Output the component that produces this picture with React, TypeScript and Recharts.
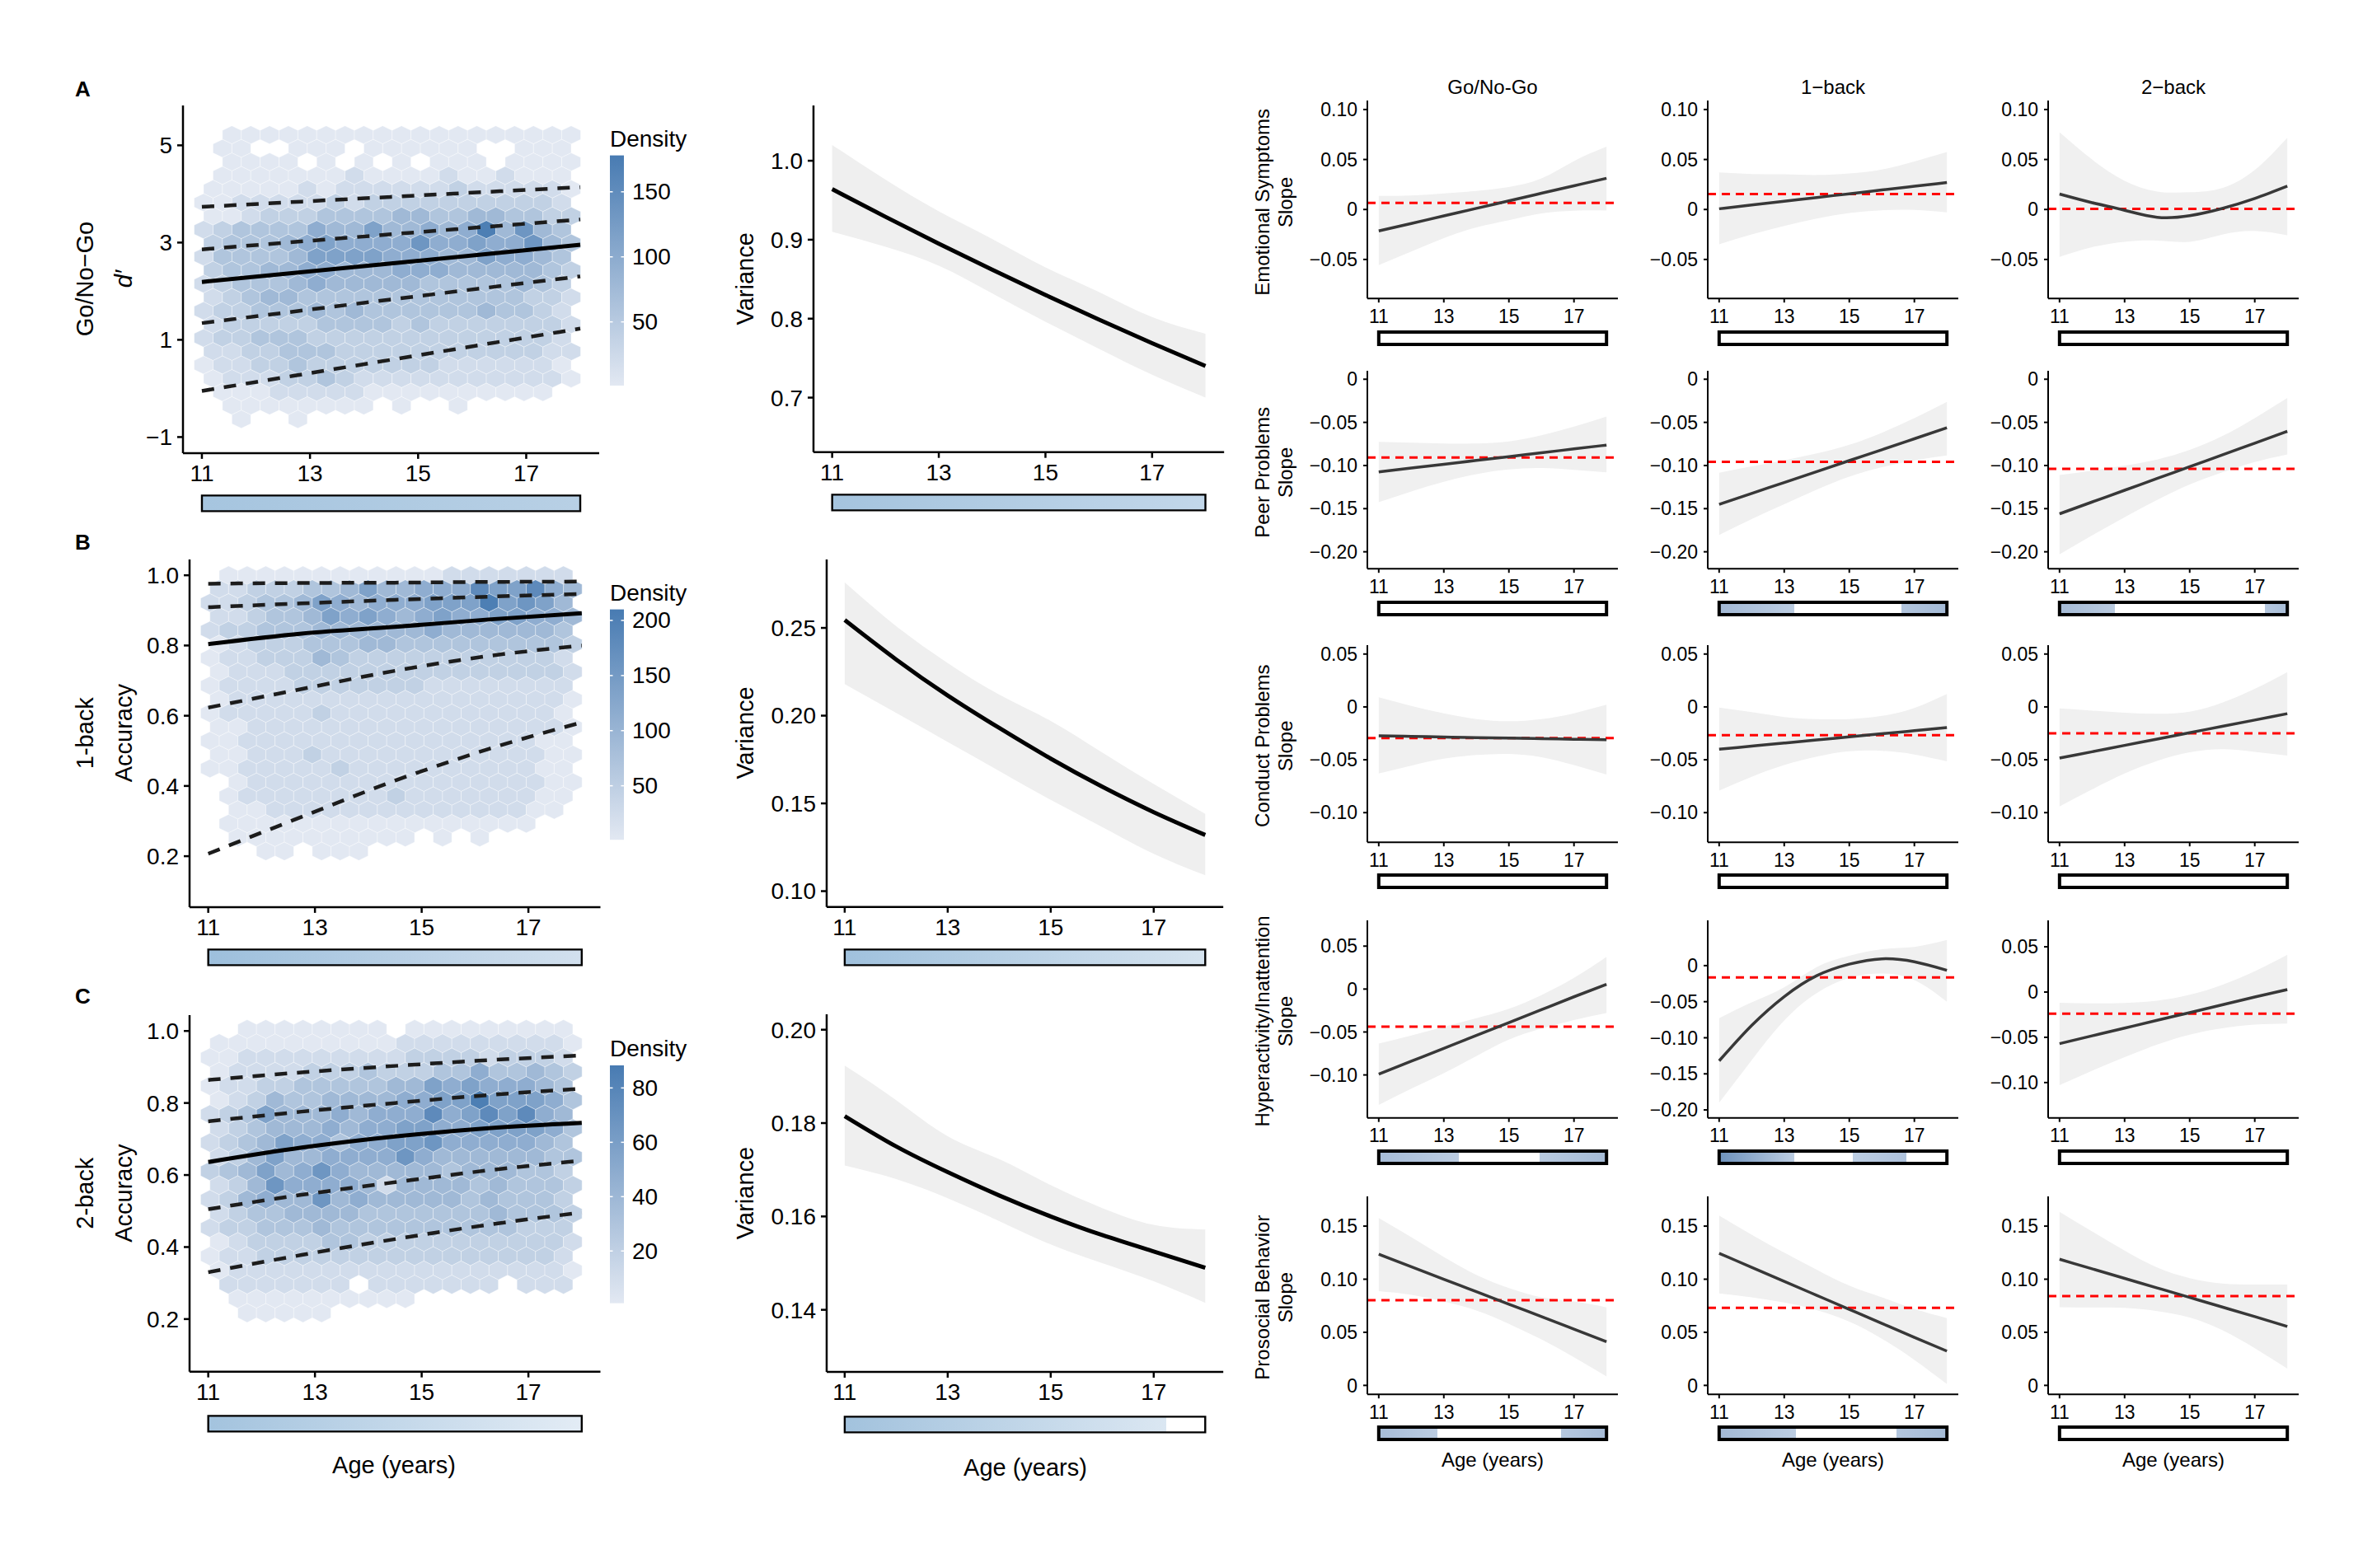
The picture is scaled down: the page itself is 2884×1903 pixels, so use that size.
import React from 'react';
import {
  Area,
  ComposedChart,
  Line,
  ReferenceArea,
  ReferenceLine,
  Scatter,
  XAxis,
  YAxis,
} from 'recharts';

const FONT = '"Liberation Sans", Arial, Helvetica, sans-serif';

// shared age axis
const AGE_DOMAIN: [number, number] = [10.65, 18.35];
const AGE_TICKS = [11, 13, 15, 17];
const AGES = [11, 12, 13, 14, 15, 16, 17, 18];
const Q_AGES_GONOGO = [11, 14.5, 18];
const Q_AGES_NBACK = [11, 12.75, 14.5, 16.25, 18];

// hexbin shade per bin (rows top -> bottom, '.' = empty bin, 0..9 = shade level)
const HEX_GONOGO = [
  '.0000000000000000000',
  '.00..000.000000..000',
  '.0000.0.0.0.000.0000',
  '.0000000100001001000',
  '00000101111112111110',
  '00111112122222222221',
  '00122233334433443322',
  '12333354464454594743',
  '23334565555755655743',
  '13333466665554465543',
  '23344554445554444432',
  '12333454444433333432',
  '12344333333333333221',
  '12233343433333343321',
  '12222233332322222221',
  '12233322222222222221',
  '11223332222222222211',
  '01122322222221111110',
  '01112232111111111110',
  '.000111110000000000.',
  '.00000000.0..0......',
  '..0..0..............',
];
const HEX_ONEBACK = [
  '.0000000000001111111',
  '11222334644555866854',
  '11233465455566696764',
  '11233465654565566554',
  '12233344444454444443',
  '01222333443333333332',
  '01122243222222222221',
  '01112222222222222221',
  '01111222222211111111',
  '01111111111111111110',
  '01111121111111111110',
  '00111111111111111110',
  '00111111111111111100',
  '00111211111111111100',
  '00111112111111111100',
  '.0111111111111111100',
  '.0111111112111111100',
  '.001111111111111100.',
  '.00000000000000000..',
  '.0000000000.0.0.....',
  '...00.000...........',
];
const HEX_TWOBACK = [
  '..00000000.000000000',
  '00000000001111111110',
  '00111111111222212221',
  '01111222322233533432',
  '01122333334465655543',
  '01243344445566966653',
  '12364445455585686854',
  '12344454556655666653',
  '12346553556675555543',
  '12464455557544444433',
  '23464575444443444332',
  '12475555414444343332',
  '12454474544444343332',
  '12334444333333343332',
  '12233343333333333222',
  '01222233222222222221',
  '01122222222222222221',
  '01111111111111111110',
  '.1111111.1111111.111',
  '.0000000000.........',
  '..00000.............',
];

// bin layout: first row centre, row step, column step, centre of first bin in each row parity
const HEX_GRID_GONOGO = { y0: 5.215, dy: 0.2785, dx: 0.3487, firstBase: 11.206, otherBase: 11.032 };
const HEX_GRID_ONEBACK = { y0: 1.0, dy: 0.0393, dx: 0.3487, firstBase: 11.032, otherBase: 11.206 };
const HEX_GRID_TWOBACK = { y0: 1.005, dy: 0.0394, dx: 0.3487, firstBase: 11.032, otherBase: 11.206 };

const DENSITY_RANGE_GONOGO: [number, number] = [1, 178];
const DENSITY_RANGE_ONEBACK: [number, number] = [1, 210];
const DENSITY_RANGE_TWOBACK: [number, number] = [0.8, 88.3];
const DENSITY_TICKS_GONOGO = [50, 100, 150];
const DENSITY_TICKS_ONEBACK = [50, 100, 150, 200];
const DENSITY_TICKS_TWOBACK = [20, 40, 60, 80];

// quantile curves, top to bottom (index 2 = median, solid)
const Q_GONOGO = [
  [3.734, 3.94, 4.14],
  [2.86, 3.17, 3.475],
  [2.19, 2.57, 2.955],
  [1.344, 1.83, 2.305],
  [-0.051, 0.59, 1.232],
];
const Q_ONEBACK = [
  [0.976, 0.978, 0.979, 0.981, 0.982],
  [0.909, 0.92, 0.93, 0.939, 0.947],
  [0.804, 0.834, 0.853, 0.874, 0.892],
  [0.623, 0.676, 0.728, 0.77, 0.8],
  [0.207, 0.312, 0.415, 0.505, 0.581],
];
const Q_TWOBACK = [
  [0.864, 0.885, 0.903, 0.919, 0.932],
  [0.749, 0.776, 0.8, 0.822, 0.84],
  [0.636, 0.676, 0.707, 0.73, 0.745],
  [0.505, 0.545, 0.58, 0.613, 0.64],
  [0.33, 0.378, 0.422, 0.462, 0.496],
];

// variance by age
const VAR_GONOGO_FIT = [0.964, 0.929, 0.895, 0.862, 0.83, 0.799, 0.769, 0.74];
const VAR_GONOGO_HI = [1.02, 0.976, 0.936, 0.901, 0.865, 0.834, 0.802, 0.781];
const VAR_GONOGO_LO = [0.91, 0.891, 0.867, 0.832, 0.796, 0.762, 0.729, 0.7];
const VAR_ONEBACK_FIT = [0.2545, 0.232, 0.2115, 0.193, 0.1755, 0.1595, 0.145, 0.132];
const VAR_ONEBACK_HI = [0.276, 0.251, 0.23, 0.212, 0.197, 0.179, 0.161, 0.144];
const VAR_ONEBACK_LO = [0.218, 0.2015, 0.185, 0.1685, 0.152, 0.1365, 0.1212, 0.109];
const VAR_TWOBACK_FIT = [0.1815, 0.175, 0.1695, 0.1645, 0.16, 0.156, 0.1525, 0.149];
const VAR_TWOBACK_HI = [0.1923, 0.1849, 0.1772, 0.1723, 0.1667, 0.1618, 0.1582, 0.1572];
const VAR_TWOBACK_LO = [0.1709, 0.168, 0.1639, 0.159, 0.154, 0.15, 0.1461, 0.1415];

// SDQ slopes by age: fit, lower, upper, average slope
const EMO_GNG_FIT = [-0.0215, -0.014, -0.0064, 0.0011, 0.0087, 0.0162, 0.0237, 0.0312];
const EMO_GNG_LO = [-0.0556, -0.042, -0.0287, -0.018, -0.0108, -0.004, -0.0012, -0.001];
const EMO_GNG_HI = [0.0136, 0.014, 0.016, 0.0185, 0.0225, 0.031, 0.0485, 0.0628];
const EMO_GNG_REF = 0.0065;
const EMO_1B_FIT = [0.0007, 0.0045, 0.0082, 0.012, 0.0157, 0.0195, 0.0232, 0.0269];
const EMO_1B_LO = [-0.0348, -0.025, -0.0165, -0.009, -0.0036, -0.0008, -0.0005, -0.0029];
const EMO_1B_HI = [0.037, 0.0355, 0.0352, 0.0345, 0.036, 0.04, 0.048, 0.0574];
const EMO_1B_REF = 0.0154;
const EMO_2B_FIT = [0.0154, 0.0068, -0.0008, -0.0078, -0.0062, 0.001, 0.011, 0.0233];
const EMO_2B_LO = [-0.0474, -0.0377, -0.0323, -0.0312, -0.0323, -0.0251, -0.0215, -0.0258];
const EMO_2B_HI = [0.0772, 0.05, 0.0287, 0.018, 0.0172, 0.0215, 0.0395, 0.0718];
const EMO_2B_REF = 0.0007;

const PEER_GNG_FIT = [-0.1075, -0.103, -0.0986, -0.0941, -0.0897, -0.0852, -0.0808, -0.0763];
const PEER_GNG_LO = [-0.1425, -0.13, -0.119, -0.11, -0.1045, -0.103, -0.105, -0.1079];
const PEER_GNG_HI = [-0.0725, -0.0735, -0.0745, -0.0745, -0.072, -0.065, -0.055, -0.0433];
const PEER_GNG_REF = -0.0908;
const PEER_1B_FIT = [-0.145, -0.1323, -0.1197, -0.107, -0.0943, -0.0817, -0.069, -0.0563];
const PEER_1B_LO = [-0.1804, -0.162, -0.145, -0.128, -0.113, -0.102, -0.094, -0.0883];
const PEER_1B_HI = [-0.1083, -0.101, -0.094, -0.086, -0.076, -0.062, -0.045, -0.0263];
const PEER_1B_REF = -0.0958;
const PEER_2B_FIT = [-0.156, -0.1423, -0.1287, -0.115, -0.1014, -0.0877, -0.0741, -0.0604];
const PEER_2B_LO = [-0.203, -0.181, -0.16, -0.14, -0.122, -0.108, -0.096, -0.0871];
const PEER_2B_HI = [-0.111, -0.106, -0.1, -0.093, -0.082, -0.066, -0.045, -0.0217];
const PEER_2B_REF = -0.1038;

const COND_GNG_FIT = [-0.0274, -0.0279, -0.0285, -0.029, -0.0295, -0.03, -0.0306, -0.0311];
const COND_GNG_LO = [-0.063, -0.0555, -0.049, -0.0455, -0.0445, -0.0475, -0.055, -0.064];
const COND_GNG_HI = [0.0091, 0.001, -0.006, -0.0115, -0.0135, -0.0115, -0.006, 0.002];
const COND_GNG_REF = -0.0295;
const COND_1B_FIT = [-0.04, -0.0371, -0.0342, -0.0313, -0.0283, -0.0254, -0.0225, -0.0196];
const COND_1B_LO = [-0.0792, -0.066, -0.055, -0.047, -0.042, -0.0415, -0.045, -0.0515];
const COND_1B_HI = [-0.0007, -0.005, -0.0095, -0.0115, -0.0115, -0.0085, -0.001, 0.0122];
const COND_1B_REF = -0.0267;
const COND_2B_FIT = [-0.0484, -0.0424, -0.0364, -0.0304, -0.0244, -0.0184, -0.0124, -0.0064];
const COND_2B_LO = [-0.0941, -0.078, -0.063, -0.051, -0.043, -0.04, -0.0425, -0.046];
const COND_2B_HI = [-0.0014, -0.0035, -0.0055, -0.0065, -0.0045, 0.004, 0.017, 0.0328];
const COND_2B_REF = -0.025;

const HYP_GNG_FIT = [-0.099, -0.084, -0.069, -0.054, -0.039, -0.024, -0.009, 0.0055];
const HYP_GNG_LO = [-0.135, -0.116, -0.098, -0.078, -0.059, -0.046, -0.036, -0.028];
const HYP_GNG_HI = [-0.0634, -0.054, -0.044, -0.034, -0.023, -0.007, 0.013, 0.0376];
const HYP_GNG_REF = -0.0439;
const HYP_1B_FIT = [-0.132, -0.083, -0.043, -0.014, 0.002, 0.0094, 0.0053, -0.0065];
const HYP_1B_LO = [-0.19, -0.131, -0.076, -0.038, -0.017, -0.011, -0.02, -0.05];
const HYP_1B_HI = [-0.073, -0.051, -0.03, -0.002, 0.0136, 0.0228, 0.026, 0.0355];
const HYP_1B_REF = -0.0164;
const HYP_2B_FIT = [-0.057, -0.0484, -0.0398, -0.0312, -0.0227, -0.0141, -0.0055, 0.0028];
const HYP_2B_LO = [-0.1029, -0.087, -0.072, -0.058, -0.047, -0.04, -0.036, -0.0348];
const HYP_2B_HI = [-0.0119, -0.0125, -0.012, -0.0095, -0.003, 0.008, 0.023, 0.0412];
const HYP_2B_REF = -0.0238;

const PRO_GNG_FIT = [0.1235, 0.1118, 0.1, 0.0883, 0.0765, 0.0648, 0.053, 0.0412];
const PRO_GNG_LO = [0.0887, 0.0853, 0.079, 0.0706, 0.058, 0.0433, 0.0265, 0.0084];
const PRO_GNG_HI = [0.1576, 0.1395, 0.121, 0.104, 0.0916, 0.083, 0.079, 0.0735];
const PRO_GNG_REF = 0.0803;
const PRO_1B_FIT = [0.1244, 0.1112, 0.098, 0.0848, 0.0716, 0.0584, 0.0452, 0.0323];
const PRO_1B_LO = [0.0866, 0.083, 0.078, 0.071, 0.06, 0.044, 0.024, 0.0013];
const PRO_1B_HI = [0.16, 0.142, 0.125, 0.109, 0.094, 0.083, 0.072, 0.0633];
const PRO_1B_REF = 0.0731;
const PRO_2B_FIT = [0.1188, 0.1098, 0.1008, 0.0918, 0.0828, 0.0738, 0.0648, 0.0555];
const PRO_2B_LO = [0.0737, 0.0735, 0.073, 0.07, 0.064, 0.052, 0.035, 0.0159];
const PRO_2B_HI = [0.1635, 0.145, 0.127, 0.111, 0.101, 0.096, 0.095, 0.095];
const PRO_2B_REF = 0.0841;

// derivative strips under each panel: [age, colour] stops
type Stop = [number, string];
const STRIP_WHITE: Stop[] = [[11, '#ffffff'], [18, '#ffffff']];
const STRIP_HEX_GONOGO: Stop[] = [[11, '#a6c5df'], [18, '#b8d0e5']];
const STRIP_HEX_ONEBACK: Stop[] = [[11, '#9dbfdc'], [18, '#d2e0ee']];
const STRIP_HEX_TWOBACK: Stop[] = [[11, '#a3c3de'], [18, '#e3ecf5']];
const STRIP_VAR_GONOGO: Stop[] = [[11, '#a5c4de'], [18, '#c2d7ea']];
const STRIP_VAR_ONEBACK: Stop[] = [[11, '#a0c1dd'], [18, '#d5e3ef']];
const STRIP_VAR_TWOBACK: Stop[] = [[11, '#a2c2dd'], [17.25, '#dbe7f2'], [17.25, '#ffffff'], [18, '#ffffff']];
const STRIP_PEER_1B: Stop[] = [[11, '#a3b9d5'], [13.3, '#bccde2'], [13.3, '#ffffff'], [16.6, '#ffffff'], [16.6, '#b3c6de'], [18, '#a4bad6']];
const STRIP_PEER_2B: Stop[] = [[11, '#a5bbd6'], [12.7, '#bacbe0'], [12.7, '#ffffff'], [17.3, '#ffffff'], [17.3, '#b6c8df'], [18, '#a8bdd7']];
const STRIP_HYP_GNG: Stop[] = [[11, '#a7bcd7'], [13.45, '#bccde2'], [13.45, '#ffffff'], [15.95, '#ffffff'], [15.95, '#b8cae0'], [18, '#a5bbd6']];
const STRIP_HYP_1B: Stop[] = [[11, '#6e92bc'], [13.3, '#bccde2'], [13.3, '#ffffff'], [15.1, '#ffffff'], [15.1, '#bdcee3'], [16.75, '#aec2dc'], [16.75, '#ffffff'], [18, '#ffffff']];
const STRIP_PRO_GNG: Stop[] = [[11, '#a7bcd7'], [12.8, '#bccde2'], [12.8, '#ffffff'], [16.6, '#ffffff'], [16.6, '#b6c8df'], [18, '#a7bcd7']];
const STRIP_PRO_1B: Stop[] = [[11, '#a3b9d5'], [13.35, '#bccde2'], [13.35, '#ffffff'], [16.45, '#ffffff'], [16.45, '#b3c6de'], [18, '#a5bbd6']];

const ROW_NAMES = ['Emotional Symptoms', 'Peer Problems', 'Conduct Problems', 'Hyperactivity/Inattention', 'Prosocial Behavior'];
const TASK_NAMES = ['Go/No-Go', '1\u2212back', '2\u2212back'];

// ---------------------------------------------------------------------------
type Frame = { x0: number; y0: number; x1: number; y1: number };
type AxisStyle = { font: number; tick: number; xGap: number; yGap: number; stroke: number };

const YW = 120;
const MT = 12;
const MR = 12;
const XH = 60;

const BIG: AxisStyle = { font: 28, tick: 7, xGap: 7, yGap: 6, stroke: 2.5 };
const SMALL: AxisStyle = { font: 23, tick: 5, xGap: 8, yGap: 7, stroke: 2 };

const LOW = [226, 232, 242];
const HIGH = [72, 123, 178];
const rgb = (c: number[]) => `rgb(${c.map((v) => Math.round(v)).join(',')})`;

function densityColor(count: number, range: [number, number]) {
  const t = Math.max(0, Math.min(1, (count - range[0]) / (range[1] - range[0])));
  return rgb(LOW.map((l, i) => l + (HIGH[i] - l) * t));
}

const minus = (s: string) => s.replace('-', '\u2212');
const fmtInt = (v: number) => minus(String(v));
const fmt1 = (v: number) => v.toFixed(1);
const fmt2 = (v: number) => v.toFixed(2);
const fmtSlope = (v: number) => (Math.abs(v) < 1e-9 ? '0' : minus(v.toFixed(2)));

function axes(st: AxisStyle, yDomain: [number, number], yTicks: number[], yFmt: (v: number) => string, yKey?: string) {
  const common = {
    axisLine: { stroke: '#000', strokeWidth: st.stroke },
    tickLine: { stroke: '#000', strokeWidth: st.stroke },
    tick: { fill: '#000', fontSize: st.font, fontFamily: FONT },
    tickSize: st.tick,
    allowDataOverflow: true,
    interval: 0 as const,
  };
  return [
    <XAxis key="x" type="number" dataKey="x" domain={AGE_DOMAIN} ticks={AGE_TICKS} height={XH} tickMargin={st.xGap} {...common} />,
    <YAxis key="y" type="number" dataKey={yKey} domain={yDomain} ticks={yTicks} tickFormatter={yFmt} width={YW} tickMargin={st.yGap} {...common} />,
  ];
}

function boxStyle(f: Frame): React.CSSProperties {
  return { position: 'absolute', left: f.x0 - YW, top: f.y0 - MT };
}
const chartW = (f: Frame) => f.x1 - f.x0 + YW + MR;
const chartH = (f: Frame) => f.y1 - f.y0 + MT + XH;

type HexGrid = { y0: number; dy: number; dx: number; firstBase: number; otherBase: number };

function hexCells(rows: string[], g: HexGrid, range: [number, number]) {
  const out: { x: number; y: number; count: number }[] = [];
  rows.forEach((row, r) => {
    const base = r % 2 === 0 ? g.firstBase : g.otherBase;
    for (let k = 0; k < row.length; k++) {
      const ch = row[k];
      if (ch === '.') continue;
      const level = Number(ch);
      out.push({ x: base + k * g.dx, y: g.y0 - r * g.dy, count: range[0] + ((range[1] - range[0]) * level) / 9.3 });
    }
  });
  return out;
}

function HexPanel(props: {
  frame: Frame; yDomain: [number, number]; yTicks: number[]; yFmt: (v: number) => string;
  rows: string[]; grid: HexGrid; range: [number, number]; quants: number[][]; qAges: number[];
}) {
  const { frame, yDomain, yTicks, yFmt, rows, grid, range, quants, qAges } = props;
  const pxX = (frame.x1 - frame.x0) / (AGE_DOMAIN[1] - AGE_DOMAIN[0]);
  const pxY = (frame.y1 - frame.y0) / (yDomain[1] - yDomain[0]);
  const hw = (grid.dx * pxX) / 2;
  const hy = grid.dy * pxY;
  const cells = hexCells(rows, grid, range);
  const shape = (p: any) => {
    if (!Number.isFinite(p.cx) || !Number.isFinite(p.cy)) return <g />;
    const count = p.payload?.count ?? p.count;
    const pts = [
      [0, (-2 * hy) / 3], [hw, -hy / 3], [hw, hy / 3], [0, (2 * hy) / 3], [-hw, hy / 3], [-hw, -hy / 3],
    ].map(([a, b]) => `${p.cx + a},${p.cy + b}`).join(' ');
    return <polygon points={pts} fill={densityColor(count, range)} stroke="#ffffff" strokeOpacity={0.45} strokeWidth={0.8} />;
  };
  return (
    <>
      <div style={boxStyle(frame)}>
        <ComposedChart width={chartW(frame)} height={chartH(frame)} margin={{ top: MT, right: MR, left: 0, bottom: 0 }}>
          {axes(BIG, yDomain, yTicks, yFmt, 'y')}
          <Scatter data={cells} dataKey="y" shape={shape} isAnimationActive={false} />
        </ComposedChart>
      </div>
      {/* quantile curves drawn in a second layer so they sit above the bins */}
      <div style={boxStyle(frame)}>
        <ComposedChart width={chartW(frame)} height={chartH(frame)} margin={{ top: MT, right: MR, left: YW, bottom: XH }}>
          <XAxis type="number" dataKey="x" domain={AGE_DOMAIN} hide allowDataOverflow />
          <YAxis type="number" dataKey="y" domain={yDomain} hide allowDataOverflow />
          {quants.map((q, i) => (
            <Line
              key={i}
              data={qAges.map((x, j) => ({ x, y: q[j] }))}
              dataKey="y"
              type="monotone"
              stroke={i === 2 ? '#000' : '#1c1c1c'}
              strokeWidth={i === 2 ? 5 : 4.5}
              strokeDasharray={i === 2 ? undefined : '15 12'}
              dot={false}
              activeDot={false}
              isAnimationActive={false}
            />
          ))}
        </ComposedChart>
      </div>
    </>
  );
}

function bandRows(fit: number[], lo: number[], hi: number[]) {
  return AGES.map((x, i) => ({ x, fit: fit[i], band: [lo[i], hi[i]] }));
}

function VariancePanel(props: {
  frame: Frame; yDomain: [number, number]; yTicks: number[]; yFmt: (v: number) => string;
  fit: number[]; lo: number[]; hi: number[];
}) {
  const { frame, yDomain, yTicks, yFmt, fit, lo, hi } = props;
  return (
    <div style={boxStyle(frame)}>
      <ComposedChart width={chartW(frame)} height={chartH(frame)} data={bandRows(fit, lo, hi)} margin={{ top: MT, right: MR, left: 0, bottom: 0 }}>
        {axes(BIG, yDomain, yTicks, yFmt)}
        <Area dataKey="band" type="natural" stroke="none" fill="#efefef" fillOpacity={1} isAnimationActive={false} activeDot={false} />
        <Line dataKey="fit" type="natural" stroke="#000" strokeWidth={5} dot={false} activeDot={false} isAnimationActive={false} />
      </ComposedChart>
    </div>
  );
}

function SlopePanel(props: {
  frame: Frame; yDomain: [number, number]; yTicks: number[];
  fit: number[]; lo: number[]; hi: number[]; avg: number;
}) {
  const { frame, yDomain, yTicks, fit, lo, hi, avg } = props;
  return (
    <div style={boxStyle(frame)}>
      <ComposedChart width={chartW(frame)} height={chartH(frame)} data={bandRows(fit, lo, hi)} margin={{ top: MT, right: MR, left: 0, bottom: 0 }}>
        {axes(SMALL, yDomain, yTicks, fmtSlope)}
        <Area dataKey="band" type="natural" stroke="none" fill="#f0f0f0" fillOpacity={1} isAnimationActive={false} activeDot={false} />
        <ReferenceLine y={avg} stroke="#ff0000" strokeWidth={3} strokeDasharray="10 7" />
        <Line dataKey="fit" type="natural" stroke="#383838" strokeWidth={3.5} dot={false} activeDot={false} isAnimationActive={false} />
      </ComposedChart>
    </div>
  );
}

function AgeStrip(props: { id: string; frame: Frame; top: number; height: number; stops: Stop[]; border: number }) {
  const { id, frame, top, height, stops, border } = props;
  const pad = border + 1;
  return (
    <div style={{ position: 'absolute', left: frame.x0, top: top - pad }}>
      <ComposedChart width={frame.x1 - frame.x0} height={height + 2 * pad} data={[{ x: 11 }, { x: 18 }]} margin={{ top: pad, right: 0, bottom: pad, left: 0 }}>
        <defs>
          <linearGradient id={id} x1="0" y1="0" x2="1" y2="0">
            {stops.map(([a, c], i) => (
              <stop key={i} offset={(a - 11) / 7} stopColor={c} />
            ))}
          </linearGradient>
        </defs>
        <XAxis type="number" dataKey="x" domain={AGE_DOMAIN} hide allowDataOverflow />
        <YAxis type="number" domain={[0, 1]} hide allowDataOverflow />
        <ReferenceArea x1={11} x2={18} y1={0} y2={1} fill={`url(#${id})`} fillOpacity={1} stroke="#000" strokeWidth={border} />
      </ComposedChart>
    </div>
  );
}

function VText(props: { x: number; y: number; size: number; italic?: boolean; children: React.ReactNode }) {
  const { x, y, size, italic, children } = props;
  return (
    <text x={x} y={y} transform={`rotate(-90 ${x} ${y})`} textAnchor="middle" dominantBaseline="central"
      fontSize={size} fontStyle={italic ? 'italic' : 'normal'} fontFamily={FONT} fill="#000">
      {children}
    </text>
  );
}

function DensityBar(props: { id: string; x: number; top: number; bottom: number; range: [number, number]; ticks: number[] }) {
  const { id, x, top, bottom, range, ticks } = props;
  const h = bottom - top;
  const yOf = (v: number) => bottom - ((v - range[0]) / (range[1] - range[0])) * h;
  return (
    <g>
      <defs>
        <linearGradient id={id} x1="0" y1="1" x2="0" y2="0">
          <stop offset="0" stopColor={rgb(LOW)} />
          <stop offset="1" stopColor={rgb(HIGH)} />
        </linearGradient>
      </defs>
      <text x={x} y={top - 11} fontSize={28} fontFamily={FONT} fill="#000">Density</text>
      <rect x={x} y={top} width={17} height={h} fill={`url(#${id})`} />
      {ticks.map((t) => (
        <g key={t}>
          <line x1={x} x2={x + 3.5} y1={yOf(t)} y2={yOf(t)} stroke="#fff" strokeWidth={1.5} />
          <line x1={x + 13.5} x2={x + 17} y1={yOf(t)} y2={yOf(t)} stroke="#fff" strokeWidth={1.5} />
          <text x={x + 27} y={yOf(t)} dominantBaseline="central" fontSize={28} fontFamily={FONT} fill="#000">{t}</text>
        </g>
      ))}
    </g>
  );
}

// ---------------------------------------------------------------------------
const HEX_FRAMES: Frame[] = [
  { x0: 222, y0: 127.6, x1: 727, y1: 549.5 },
  { x0: 229.5, y0: 678.7, x1: 728, y1: 1100.6 },
  { x0: 229.5, y0: 1231.8, x1: 728, y1: 1664.5 },
];
const VAR_FRAMES: Frame[] = [
  { x0: 986.6, y0: 128, x1: 1484.8, y1: 548.7 },
  { x0: 1003.3, y0: 678.6, x1: 1484.5, y1: 1100.3 },
  { x0: 1003.3, y0: 1231, x1: 1484.5, y1: 1665 },
];
const HEX_STRIP_TOPS = [601, 1152, 1718];
const VAR_STRIP_TOPS = [600, 1152, 1719];
const GRID_X = [1659, 2072, 2485];
const GRID_W = 304;
const GRID_Y: [number, number][] = [[122.3, 362.5], [450.3, 690.5], [782.6, 1021.8], [1116.5, 1356.2], [1451.5, 1691.7]];

export default function App() {
  const slopeRows = [
    { domain: [[-0.089, 0.109], [-0.089, 0.109], [-0.089, 0.109]], ticks: [[-0.05, 0, 0.05, 0.1], [-0.05, 0, 0.05, 0.1], [-0.05, 0, 0.05, 0.1]],
      cells: [
        [EMO_GNG_FIT, EMO_GNG_LO, EMO_GNG_HI, EMO_GNG_REF, STRIP_WHITE],
        [EMO_1B_FIT, EMO_1B_LO, EMO_1B_HI, EMO_1B_REF, STRIP_WHITE],
        [EMO_2B_FIT, EMO_2B_LO, EMO_2B_HI, EMO_2B_REF, STRIP_WHITE],
      ] },
    { domain: [[-0.2196, 0.0098], [-0.2196, 0.0098], [-0.2196, 0.0098]], ticks: [[-0.2, -0.15, -0.1, -0.05, 0], [-0.2, -0.15, -0.1, -0.05, 0], [-0.2, -0.15, -0.1, -0.05, 0]],
      cells: [
        [PEER_GNG_FIT, PEER_GNG_LO, PEER_GNG_HI, PEER_GNG_REF, STRIP_WHITE],
        [PEER_1B_FIT, PEER_1B_LO, PEER_1B_HI, PEER_1B_REF, STRIP_PEER_1B],
        [PEER_2B_FIT, PEER_2B_LO, PEER_2B_HI, PEER_2B_REF, STRIP_PEER_2B],
      ] },
    { domain: [[-0.128, 0.0584], [-0.128, 0.0584], [-0.128, 0.0584]], ticks: [[-0.1, -0.05, 0, 0.05], [-0.1, -0.05, 0, 0.05], [-0.1, -0.05, 0, 0.05]],
      cells: [
        [COND_GNG_FIT, COND_GNG_LO, COND_GNG_HI, COND_GNG_REF, STRIP_WHITE],
        [COND_1B_FIT, COND_1B_LO, COND_1B_HI, COND_1B_REF, STRIP_WHITE],
        [COND_2B_FIT, COND_2B_LO, COND_2B_HI, COND_2B_REF, STRIP_WHITE],
      ] },
    { domain: [[-0.15, 0.08], [-0.211, 0.0627], [-0.139, 0.0792]], ticks: [[-0.1, -0.05, 0, 0.05], [-0.2, -0.15, -0.1, -0.05, 0], [-0.1, -0.05, 0, 0.05]],
      cells: [
        [HYP_GNG_FIT, HYP_GNG_LO, HYP_GNG_HI, HYP_GNG_REF, STRIP_HYP_GNG],
        [HYP_1B_FIT, HYP_1B_LO, HYP_1B_HI, HYP_1B_REF, STRIP_HYP_1B],
        [HYP_2B_FIT, HYP_2B_LO, HYP_2B_HI, HYP_2B_REF, STRIP_WHITE],
      ] },
    { domain: [[-0.0084, 0.178], [-0.0084, 0.178], [-0.0084, 0.178]], ticks: [[0, 0.05, 0.1, 0.15], [0, 0.05, 0.1, 0.15], [0, 0.05, 0.1, 0.15]],
      cells: [
        [PRO_GNG_FIT, PRO_GNG_LO, PRO_GNG_HI, PRO_GNG_REF, STRIP_PRO_GNG],
        [PRO_1B_FIT, PRO_1B_LO, PRO_1B_HI, PRO_1B_REF, STRIP_PRO_1B],
        [PRO_2B_FIT, PRO_2B_LO, PRO_2B_HI, PRO_2B_REF, STRIP_WHITE],
      ] },
  ];

  const hexSpecs = [
    { rows: HEX_GONOGO, grid: HEX_GRID_GONOGO, range: DENSITY_RANGE_GONOGO, yDomain: [-1.33, 5.82] as [number, number], yTicks: [-1, 1, 3, 5], yFmt: fmtInt, quants: Q_GONOGO, qAges: Q_AGES_GONOGO, strip: STRIP_HEX_GONOGO },
    { rows: HEX_ONEBACK, grid: HEX_GRID_ONEBACK, range: DENSITY_RANGE_ONEBACK, yDomain: [0.055, 1.045] as [number, number], yTicks: [0.2, 0.4, 0.6, 0.8, 1.0], yFmt: fmt1, quants: Q_ONEBACK, qAges: Q_AGES_NBACK, strip: STRIP_HEX_ONEBACK },
    { rows: HEX_TWOBACK, grid: HEX_GRID_TWOBACK, range: DENSITY_RANGE_TWOBACK, yDomain: [0.054, 1.044] as [number, number], yTicks: [0.2, 0.4, 0.6, 0.8, 1.0], yFmt: fmt1, quants: Q_TWOBACK, qAges: Q_AGES_NBACK, strip: STRIP_HEX_TWOBACK },
  ];
  const varSpecs = [
    { fit: VAR_GONOGO_FIT, lo: VAR_GONOGO_LO, hi: VAR_GONOGO_HI, yDomain: [0.631, 1.07] as [number, number], yTicks: [0.7, 0.8, 0.9, 1.0], yFmt: fmt1, strip: STRIP_VAR_GONOGO },
    { fit: VAR_ONEBACK_FIT, lo: VAR_ONEBACK_LO, hi: VAR_ONEBACK_HI, yDomain: [0.091, 0.289] as [number, number], yTicks: [0.1, 0.15, 0.2, 0.25], yFmt: fmt2, strip: STRIP_VAR_ONEBACK },
    { fit: VAR_TWOBACK_FIT, lo: VAR_TWOBACK_LO, hi: VAR_TWOBACK_HI, yDomain: [0.1267, 0.2033] as [number, number], yTicks: [0.14, 0.16, 0.18, 0.2], yFmt: fmt2, strip: STRIP_VAR_TWOBACK },
  ];

  const leftTitles = [
    ['Go/No\u2212Go', 'd\u2032'],
    ['1-back', 'Accuracy'],
    ['2-back', 'Accuracy'],
  ];
  const letters = [['A', 117], ['B', 667], ['C', 1218]];
  const densityBars = [
    { top: 188.6, bottom: 468, range: DENSITY_RANGE_GONOGO, ticks: DENSITY_TICKS_GONOGO },
    { top: 739.6, bottom: 1019.2, range: DENSITY_RANGE_ONEBACK, ticks: DENSITY_TICKS_ONEBACK },
    { top: 1293, bottom: 1581.6, range: DENSITY_RANGE_TWOBACK, ticks: DENSITY_TICKS_TWOBACK },
  ];

  return (
    <div style={{ position: 'absolute', left: 0, top: 0, width: 2884, height: 1903, background: '#fff', overflow: 'hidden', fontFamily: FONT }}>
      {hexSpecs.map((s, i) => (
        <React.Fragment key={`hex${i}`}>
          <HexPanel frame={HEX_FRAMES[i]} yDomain={s.yDomain} yTicks={s.yTicks} yFmt={s.yFmt} rows={s.rows} grid={s.grid} range={s.range} quants={s.quants} qAges={s.qAges} />
          <AgeStrip id={`hs${i}`} frame={HEX_FRAMES[i]} top={HEX_STRIP_TOPS[i]} height={19} stops={s.strip} border={2.4} />
        </React.Fragment>
      ))}
      {varSpecs.map((s, i) => (
        <React.Fragment key={`var${i}`}>
          <VariancePanel frame={VAR_FRAMES[i]} yDomain={s.yDomain} yTicks={s.yTicks} yFmt={s.yFmt} fit={s.fit} lo={s.lo} hi={s.hi} />
          <AgeStrip id={`vs${i}`} frame={VAR_FRAMES[i]} top={VAR_STRIP_TOPS[i]} height={19} stops={s.strip} border={2.4} />
        </React.Fragment>
      ))}
      {slopeRows.map((row, r) =>
        row.cells.map((c, ci) => {
          const frame: Frame = { x0: GRID_X[ci], x1: GRID_X[ci] + GRID_W, y0: GRID_Y[r][0], y1: GRID_Y[r][1] };
          return (
            <React.Fragment key={`s${r}${ci}`}>
              <SlopePanel frame={frame} yDomain={row.domain[ci] as [number, number]} yTicks={row.ticks[ci]}
                fit={c[0] as number[]} lo={c[1] as number[]} hi={c[2] as number[]} avg={c[3] as number} />
              <AgeStrip id={`ss${r}${ci}`} frame={frame} top={GRID_Y[r][1] + 40.5} height={15} stops={c[4] as Stop[]} border={4} />
            </React.Fragment>
          );
        }),
      )}

      <svg width={2884} height={1903} style={{ position: 'absolute', left: 0, top: 0, pointerEvents: 'none' }}>
        {letters.map(([l, y]) => (
          <text key={l as string} x={91} y={y as number} fontSize={26} fontWeight="bold" fontFamily={FONT} fill="#000">{l}</text>
        ))}
        {leftTitles.map(([a, b], i) => {
          const cy = (HEX_FRAMES[i].y0 + HEX_FRAMES[i].y1) / 2;
          return (
            <g key={`lt${i}`}>
              <VText x={103} y={cy} size={29}>{a}</VText>
              <VText x={150} y={cy} size={29} italic={i === 0}>{b}</VText>
            </g>
          );
        })}
        {VAR_FRAMES.map((f, i) => (
          <VText key={`vt${i}`} x={904} y={(f.y0 + f.y1) / 2} size={29}>Variance</VText>
        ))}
        {densityBars.map((d, i) => (
          <DensityBar key={`db${i}`} id={`dbar${i}`} x={740} top={d.top} bottom={d.bottom} range={d.range} ticks={d.ticks} />
        ))}
        <text x={478} y={1788} textAnchor="middle" fontSize={29} fontFamily={FONT} fill="#000">Age (years)</text>
        <text x={1244} y={1791} textAnchor="middle" fontSize={29} fontFamily={FONT} fill="#000">Age (years)</text>
        {GRID_X.map((x, i) => (
          <g key={`gc${i}`}>
            <text x={x + GRID_W / 2} y={114} textAnchor="middle" fontSize={24} fontFamily={FONT} fill="#000">{TASK_NAMES[i]}</text>
            <text x={x + GRID_W / 2} y={1780} textAnchor="middle" fontSize={24} fontFamily={FONT} fill="#000">Age (years)</text>
          </g>
        ))}
        {GRID_Y.map(([t, b], r) => (
          <g key={`gr${r}`}>
            <VText x={1532} y={(t + b) / 2 + 3} size={24}>{ROW_NAMES[r]}</VText>
            <VText x={1560} y={(t + b) / 2 + 3} size={24}>Slope</VText>
          </g>
        ))}
      </svg>
    </div>
  );
}
